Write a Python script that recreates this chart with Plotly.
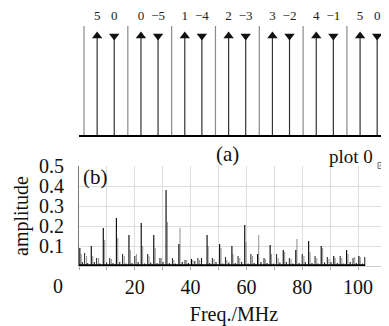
import plotly.graph_objects as go

# ---------------- data ----------------
# panel (a): labels of the up / down arrows in each group
up_labels = ["5", "0", "1", "2", "3", "4", "5"]
down_labels = ["0", "−5", "−4", "−3", "−2", "−1", "0"]

# panel (b): spectrum (Freq. in MHz, amplitude)
main_f = [0.3, 4.4, 8.7, 13.4, 17.9, 22.3, 26.8, 31.2, 35.8, 40.3, 45.9, 50.4,
          54.8, 59.4, 64.0, 68.5, 73.2, 77.7, 82.3, 86.8, 91.3, 95.9, 100.3]
main_a = [0.09, 0.10, 0.19, 0.24, 0.155, 0.215, 0.155, 0.38, 0.11, 0.035, 0.155, 0.11,
          0.10, 0.205, 0.06, 0.105, 0.08, 0.08, 0.125, 0.10, 0.05, 0.08, 0.05]
comp_f = [0.8, 4.9, 9.2, 13.9, 18.4, 22.8, 27.3, 31.7, 36.2, 40.8, 46.3, 50.9,
          55.2, 59.9, 64.4, 69.0, 73.7, 78.1, 82.8, 87.3, 91.8, 96.4, 100.8]
comp_a = [0.06, 0.05, 0.13, 0.14, 0.08, 0.10, 0.09, 0.22, 0.19, 0.03, 0.10, 0.09,
          0.06, 0.12, 0.155, 0.06, 0.07, 0.135, 0.07, 0.09, 0.04, 0.06, 0.045]
side_f = [2.0, 6.3, 11.0, 15.6, 20.0, 24.6, 29.0, 33.5, 38.0, 42.6, 47.8, 52.5,
          57.0, 61.6, 66.3, 70.8, 75.4, 80.0, 84.6, 89.0, 93.6, 98.2, 102.4]
side_a = [0.065, 0.04, 0.04, 0.06, 0.05, 0.06, 0.04, 0.04, 0.03, 0.04, 0.04, 0.045,
          0.05, 0.06, 0.04, 0.06, 0.04, 0.06, 0.05, 0.045, 0.05, 0.04, 0.045]
side2_f = [2.7, 7.0, 11.6, 16.2, 20.6, 25.1, 29.5, 34.0, 38.6, 43.2, 48.4, 53.0,
           57.6, 62.2, 66.8, 71.4, 76.0, 80.6, 85.2, 89.6, 94.2, 98.8]
side2_a = [0.05, 0.04, 0.035, 0.05, 0.06, 0.05, 0.04, 0.03, 0.03, 0.03, 0.035, 0.03,
           0.04, 0.05, 0.035, 0.04, 0.035, 0.05, 0.04, 0.035, 0.04, 0.045]
floor_f = [1.2, 3.1, 5.5, 7.4, 9.9, 12.2, 14.6, 16.8, 19.0, 21.2, 23.5, 25.7, 28.0,
           30.1, 32.4, 34.6, 37.0, 39.2, 41.5, 43.9, 46.8, 49.1, 51.5, 53.7, 56.0,
           58.3, 60.6, 62.8, 65.2, 67.4, 69.7, 72.0, 74.3, 76.6, 78.9, 81.1, 83.5,
           85.7, 88.0, 90.3, 92.6, 94.9, 97.2, 99.4, 101.6]
floor_a = [0.02, 0.015, 0.02, 0.012, 0.018, 0.015, 0.02, 0.012, 0.015, 0.02, 0.012,
           0.018, 0.015, 0.02, 0.015, 0.012, 0.02, 0.015, 0.025, 0.04, 0.015, 0.02,
           0.012, 0.018, 0.015, 0.02, 0.012, 0.015, 0.02, 0.015, 0.012, 0.018, 0.02,
           0.012, 0.015, 0.02, 0.015, 0.012, 0.018, 0.02, 0.015, 0.012, 0.02, 0.015, 0.012]
spec_start, spec_end = 0.0, 102.5

x_ticks = [20, 40, 60, 80, 100]
y_ticks = [0.1, 0.2, 0.3, 0.4, 0.5]
legend_label = "plot 0"

# ---------------- layout constants (figure pixels) ----------------
W, H = 381, 318
L, R, T, B = 71, 0, 0, 60
PW = W - L - R
PH = H - T - B
FONT = "Liberation Serif"


def ydom(top_px, bot_px):
    return [(PH - bot_px) / PH, (PH - top_px) / PH]


def px_x(x):
    return (x - L) / PW


def px_y(y):
    return (PH - y) / PH


def spikes(fs, amps):
    xs, ys = [], []
    for f, a in zip(fs, amps):
        xs += [f, f, None]
        ys += [0, a, None]
    return xs, ys


fig = go.Figure()

# ---------- panel (a) ----------
n = len(up_labels)
sep_x, sep_y = [], []
for k in range(n):
    sep_x += [k, k, None]
    sep_y += [0, 109, None]
fig.add_trace(go.Scatter(x=sep_x, y=sep_y, mode="lines", line=dict(color="#8a8a8a", width=1.2),
                         xaxis="x2", yaxis="y2", showlegend=False, hoverinfo="skip"))
up_x = [k + 0.3 for k in range(n)]
dn_x = [k + 0.69 for k in range(n)]
sh_x, sh_y = [], []
for xv in up_x + dn_x:
    sh_x += [xv, xv, None]
    sh_y += [0, 99, None]
fig.add_trace(go.Scatter(x=sh_x, y=sh_y, mode="lines", line=dict(color="#333", width=1.2),
                         xaxis="x2", yaxis="y2", showlegend=False, hoverinfo="skip"))
fig.add_trace(go.Scatter(x=up_x, y=[99] * n, mode="markers",
                         marker=dict(symbol="triangle-up", size=9, color="#111"),
                         xaxis="x2", yaxis="y2", showlegend=False, hoverinfo="skip"))
fig.add_trace(go.Scatter(x=dn_x, y=[99] * n, mode="markers",
                         marker=dict(symbol="triangle-down", size=9, color="#111"),
                         xaxis="x2", yaxis="y2", showlegend=False, hoverinfo="skip"))
fig.add_trace(go.Scatter(x=up_x + dn_x, y=[118.5] * (2 * n), mode="text",
                         text=up_labels + down_labels, textposition="middle center",
                         textfont=dict(family=FONT, size=13, color="#222"), cliponaxis=False,
                         xaxis="x2", yaxis="y2", showlegend=False, hoverinfo="skip"))

# ---------- panel (b) ----------
for fs, amps, col in [(floor_f, floor_a, "#222"), (side2_f, side2_a, "#9a9a9a"),
                      (side_f, side_a, "#333"), (comp_f, comp_a, "#9a9a9a"),
                      (main_f, main_a, "#000")]:
    xs, ys = spikes(fs, amps)
    fig.add_trace(go.Scatter(x=xs, y=ys, mode="lines", line=dict(color=col, width=1.1),
                             showlegend=False, hoverinfo="skip"))
fig.add_trace(go.Scatter(x=[spec_start, spec_end], y=[0.003, 0.003], mode="lines",
                         line=dict(color="#000", width=2.5), showlegend=False, hoverinfo="skip"))

fig.update_layout(
    width=W, height=H, margin=dict(l=L, r=R, t=T, b=B, autoexpand=False),
    paper_bgcolor="white", plot_bgcolor="white",
    font=dict(family=FONT, size=20, color="#111"),
    showlegend=False,
    xaxis=dict(domain=[0, 1], range=[0, 111.1], tickmode="array", tickvals=x_ticks,
               ticks="outside", ticklen=3, tickcolor="#aaa", ticklabelstandoff=0,
               showgrid=True, gridcolor="#dedede", zeroline=False,
               showline=True, linecolor="#ccc", linewidth=1, automargin=False,
               minor=dict(tickmode="linear", tick0=0, dtick=10, ticks="outside", ticklen=3,
                          tickcolor="#aaa", showgrid=True, gridcolor="#dedede"),
               title=dict(text="Freq./MHz", standoff=9, font=dict(size=20)),
               anchor="y"),
    yaxis=dict(domain=ydom(158, 258), range=[0, 0.5], tickmode="array", tickvals=y_ticks,
               ticktext=[str(v) for v in y_ticks], ticks="", ticklabelstandoff=10,
               showgrid=True, gridcolor="#dedede", zeroline=False,
               showline=True, linecolor="#777", linewidth=1, automargin=False,
               title=dict(text="amplitude", standoff=5, font=dict(size=20)),
               anchor="x"),
    xaxis2=dict(domain=[0, 1], range=[-0.114, 6.96], showgrid=False, zeroline=False,
                showticklabels=False, ticks="", showline=True, linecolor="#000", linewidth=2,
                anchor="y2", automargin=False),
    yaxis2=dict(domain=ydom(0, 127), range=[0, 127], visible=False, anchor="x2",
                automargin=False),
    annotations=[
        dict(text="0", x=px_x(50), y=px_y(278), xref="paper", yref="paper",
             showarrow=False, xanchor="center", yanchor="middle", font=dict(size=20)),
        dict(text="(a)", x=px_x(219), y=px_y(146), xref="paper",
             yref="paper", showarrow=False, xanchor="center", yanchor="middle",
             font=dict(size=21)),
        dict(text="(b)", x=px_x(73), y=px_y(169), xref="paper", yref="paper",
             showarrow=False, xanchor="left", yanchor="middle", font=dict(size=21)),
        dict(text=legend_label, x=px_x(319), y=px_y(148), xref="paper", yref="paper",
             showarrow=False, xanchor="left", yanchor="middle", font=dict(size=19)),
    ],
    shapes=[
        dict(type="rect", xref="paper", yref="paper", x0=px_x(370), x1=px_x(381),
             y0=px_y(160.5), y1=px_y(154.5), line=dict(color="#777", width=1),
             fillcolor="#f6f6f6", layer="above"),
        dict(type="path", xref="paper", yref="paper",
             path="M {:.4f},{:.4f} L {:.4f},{:.4f} L {:.4f},{:.4f} L {:.4f},{:.4f}".format(
                 px_x(371), px_y(158.5), px_x(374), px_y(156), px_x(377), px_y(158),
                 px_x(381), px_y(156)),
             line=dict(color="#888", width=1), layer="above"),
    ],
)

fig.write_html("out.html")
